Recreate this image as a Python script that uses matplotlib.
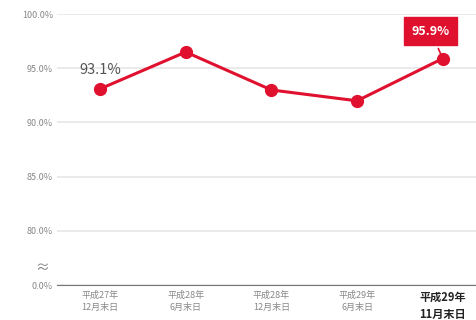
import matplotlib
matplotlib.use("Agg")
import matplotlib.pyplot as plt
import numpy as np

plt.rcParams['font.family'] = ['Noto Sans CJK JP', 'DejaVu Sans']

# data
periods = ['平成27年\n12月末日', '平成28年\n6月末日', '平成28年\n12月末日', '平成29年\n6月末日', '平成29年\n11月末日']
rates = [93.1, 96.5, 93.0, 92.0, 95.9]
tick_vals = [0.0, 80.0, 85.0, 90.0, 95.0, 100.0]
tick_pos = [75, 80, 85, 90, 95, 100]   # 0% drawn where 75% would be (broken axis)

red = '#e0102f'
grey = '#888888'

fig = plt.figure(figsize=(4.77, 3.2), dpi=100)
ax = fig.add_axes([0.12, 0.109, 0.88, 0.847])

for s in ['top', 'right', 'left']:
    ax.spines[s].set_visible(False)
ax.spines['bottom'].set_color('#777777')

x = np.arange(len(rates))
ax.plot(x, rates, color=red, linewidth=2.2, marker='o', markersize=8.5, zorder=3)

ax.set_ylim(75, 100)
ax.set_xlim(-0.5, 4.4)
ax.set_yticks(tick_pos)
ax.set_yticklabels(['%.1f%%' % v for v in tick_vals], fontsize=6.5, color=grey)
ax.set_xticks(x)
ax.set_xticklabels(periods, fontsize=6.5, color=grey, linespacing=1.45)
lbl = ax.get_xticklabels()[-1]
lbl.set_color('#222222')
lbl.set_fontweight('bold')
lbl.set_fontsize(8)

ax.grid(axis='y', color='#e6e6e6', linewidth=1.2)
ax.set_axisbelow(True)
ax.tick_params(length=0, pad=3)
ax.tick_params(axis='x', pad=4)

# axis break mark
ax.text(-0.68, 76.6, '≈', transform=ax.transData, fontsize=10, color=grey,
        ha='center', va='center', clip_on=False)

# first value label
ax.text(0.0, 94.8, '93.1%', fontsize=10.5, color='#555555', ha='center', va='center')

# highlighted latest value
ax.annotate('95.9%', xy=(x[-1], rates[-1]), xytext=(x[-1] - 0.14, 98.4),
            fontsize=9, fontweight='bold', color='white', ha='center', va='center',
            bbox=dict(boxstyle='square,pad=0.6', fc=red, ec=red),
            arrowprops=dict(arrowstyle='-', color=red, lw=1.2))

fig.savefig('out.png', dpi=100)
